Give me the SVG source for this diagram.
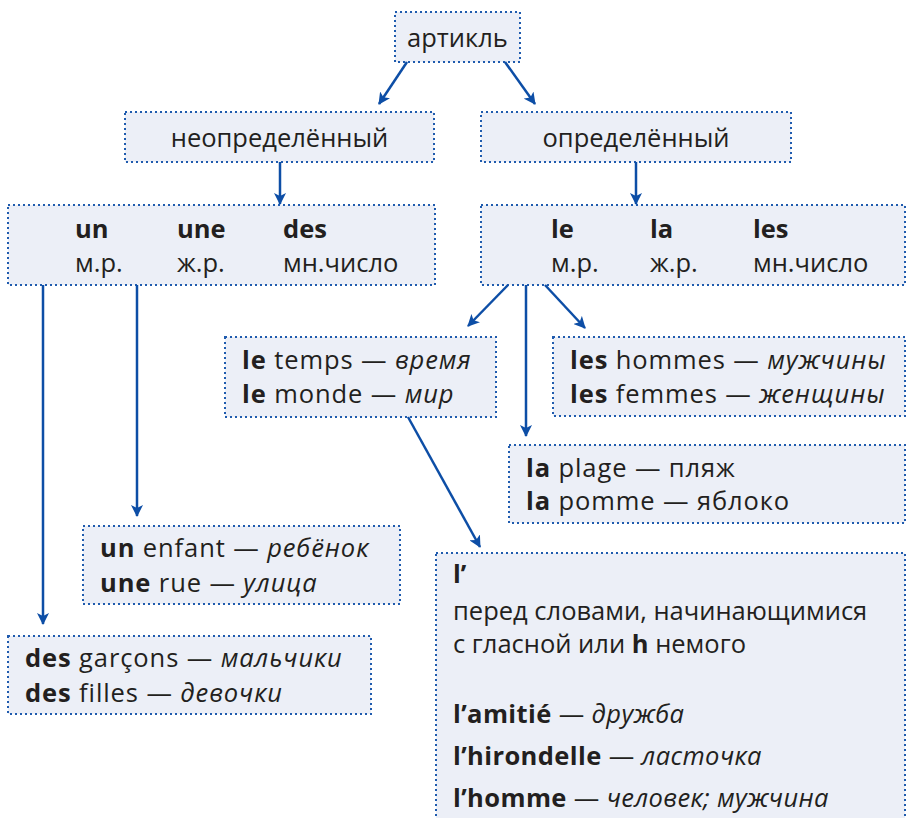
<svg xmlns="http://www.w3.org/2000/svg" width="906" height="818" viewBox="0 0 906 818">
<defs>
<marker id="ah" viewBox="0 0 12 12" refX="11" refY="6" markerWidth="12" markerHeight="12" markerUnits="userSpaceOnUse" orient="auto">
<path d="M0,0 L12,6 L0,12 L3,6 Z" fill="#0D4EA6"/>
</marker>
<style>
.box{fill:#ECEFF7;stroke:#1F5BAE;stroke-width:2;stroke-dasharray:2 3}
.t{font-family:"Open Sans","Noto Sans","Liberation Sans",sans-serif;font-size:25.5px;fill:#231F20}
.e{letter-spacing:0.4px}
.e2{letter-spacing:0.9px}
.b{font-weight:bold}
.i{font-style:italic}
.c{stroke:#0D4EA6;stroke-width:2.5;fill:none;marker-end:url(#ah)}
</style>
</defs>
<rect width="906" height="818" fill="#FFFFFF"/>
<g id="artikl">
<rect class="box" x="395" y="12" width="125" height="50"/>
<text class="t" x="457.5" y="47" text-anchor="middle">артикль</text>
</g>
<g id="neopr">
<rect class="box" x="125" y="112" width="309" height="50"/>
<text class="t" x="279.5" y="147" text-anchor="middle">неопределённый</text>
</g>
<g id="opr">
<rect class="box" x="481" y="112" width="310" height="50"/>
<text class="t" x="636" y="147" text-anchor="middle">определённый</text>
</g>
<g id="un-box">
<rect class="box" x="8" y="205" width="427" height="80"/>
<text class="t b" x="75" y="238">un</text>
<text class="t b" x="177" y="238">une</text>
<text class="t b" x="283" y="238">des</text>
<text class="t" x="75" y="272">м.р.</text>
<text class="t" x="177" y="272">ж.р.</text>
<text class="t" x="283" y="272">мн.число</text>
</g>
<g id="le-box">
<rect class="box" x="481" y="205" width="424" height="80"/>
<text class="t b" x="551" y="238">le</text>
<text class="t b" x="650" y="238">la</text>
<text class="t b" x="753" y="238">les</text>
<text class="t" x="551" y="272">м.р.</text>
<text class="t" x="650" y="272">ж.р.</text>
<text class="t" x="753" y="272">мн.число</text>
</g>
<g id="le-temps">
<rect class="box" x="225" y="337" width="271" height="80"/>
<text class="t e2" x="242" y="369"><tspan class="b">le</tspan> temps — <tspan class="i">время</tspan></text>
<text class="t e2" x="242" y="403"><tspan class="b">le</tspan> monde — <tspan class="i">мир</tspan></text>
</g>
<g id="les-hommes">
<rect class="box" x="553" y="337" width="352" height="79"/>
<text class="t e2" x="570" y="369"><tspan class="b">les</tspan> hommes — <tspan class="i">мужчины</tspan></text>
<text class="t e2" x="570" y="403"><tspan class="b">les</tspan> femmes — <tspan class="i">женщины</tspan></text>
</g>
<g id="la-plage">
<rect class="box" x="509" y="445" width="396" height="78"/>
<text class="t e2" x="526" y="477"><tspan class="b">la</tspan> plage — пляж</text>
<text class="t e2" x="526" y="510"><tspan class="b">la</tspan> pomme — яблоко</text>
</g>
<g id="un-enfant">
<rect class="box" x="83" y="526" width="317" height="78"/>
<text class="t e2" x="100" y="557"><tspan class="b">un</tspan> enfant — <tspan class="i">ребёнок</tspan></text>
<text class="t e2" x="100" y="592"><tspan class="b">une</tspan> rue — <tspan class="i">улица</tspan></text>
</g>
<g id="des-garcons">
<rect class="box" x="8" y="636" width="363" height="78"/>
<text class="t e2" x="25" y="667"><tspan class="b">des</tspan> garçons — <tspan class="i">мальчики</tspan></text>
<text class="t e2" x="25" y="702"><tspan class="b">des</tspan> filles — <tspan class="i">девочки</tspan></text>
</g>
<g id="l-apos">
<rect class="box" x="436" y="553" width="469" height="280"/>
<text class="t b" x="453" y="583">l’</text>
<text class="t" x="453" y="620">перед словами, начинающимися</text>
<text class="t" x="453" y="653">с гласной или <tspan class="b">h</tspan> немого</text>
<text class="t e" x="453" y="723"><tspan class="b">l’amitié</tspan> — <tspan class="i">дружба</tspan></text>
<text class="t e" x="453" y="765"><tspan class="b">l’hirondelle</tspan> — <tspan class="i">ласточка</tspan></text>
<text class="t e" x="453" y="807"><tspan class="b">l’homme</tspan> — <tspan class="i">человек; мужчина</tspan></text>
</g>
<g id="connectors">
<line class="c" x1="407" y1="62" x2="379" y2="104"/>
<line class="c" x1="505" y1="62" x2="535" y2="104"/>
<line class="c" x1="280" y1="162" x2="280" y2="204"/>
<line class="c" x1="636" y1="162" x2="636" y2="204"/>
<line class="c" x1="43" y1="285" x2="43" y2="624"/>
<line class="c" x1="137" y1="285" x2="137" y2="516"/>
<line class="c" x1="508" y1="285" x2="468" y2="326"/>
<line class="c" x1="526" y1="285" x2="526" y2="436"/>
<line class="c" x1="545" y1="285" x2="585" y2="328"/>
<line class="c" x1="408" y1="417" x2="480" y2="547"/>
</g>
</svg>
